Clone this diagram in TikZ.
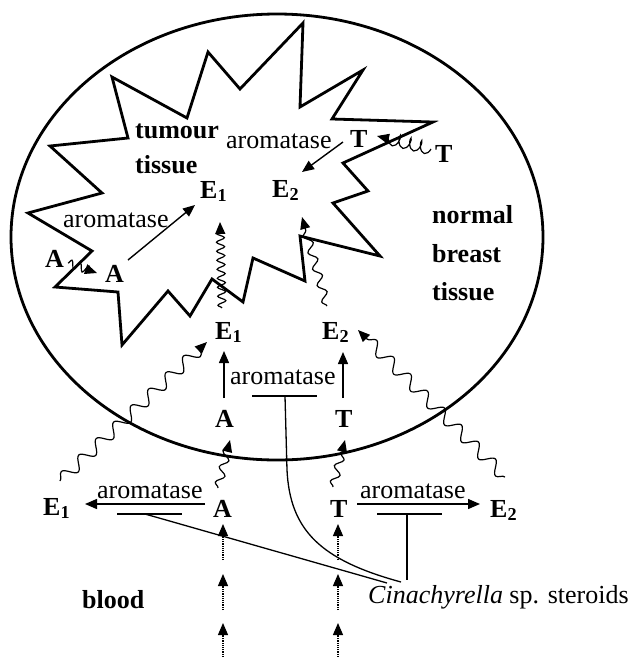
\documentclass[tikz,border=0pt]{standalone}
\usepackage{fontspec}
\setmainfont{Liberation Serif}
\usetikzlibrary{arrows.meta,decorations.pathmorphing}
\begin{document}
\begin{tikzpicture}[x=1pt,y=-1pt,
  lbl/.style={anchor=base west, inner sep=0pt, font=\fontsize{26}{30}\selectfont},
  blbl/.style={anchor=base west, inner sep=0pt, font=\fontsize{26}{30}\selectfont\bfseries},
  tip/.style={-{Triangle[length=12pt,width=10pt]}},
  arr/.style={tip, line width=1.4pt},
  wavy/.style={tip, line width=1.2pt, decorate,
    decoration={snake, segment length=#1, amplitude=4pt, post length=7pt}},
  wavy/.default=10pt,
  bigwavy/.style={tip, line width=1.2pt, decorate,
    decoration={snake, segment length=24pt, amplitude=6pt, post length=7pt}},
  coilarr/.style={tip, line width=1.2pt, decorate,
    decoration={coil, aspect=0.45, segment length=11pt, amplitude=6pt, post length=5pt}},
  dotarr/.style={tip, line width=1.2pt, densely dotted},
  inh/.style={line width=1.3pt},
  border/.style={line width=2.8pt, line join=miter}
]
\path[use as bounding box, fill=white] (0,0) rectangle (635,657);

% breast ellipse and tumour outline
\draw[border] (277,237) ellipse [x radius=266, y radius=223];
\draw[border] (303,23) -- (300,107) -- (363,70) -- (332,119) -- (433,122) -- (343,163)
  -- (368,191) -- (333,203) -- (380,256) -- (300,236) -- (305,281) -- (253,258)
  -- (243,302) -- (212,279) -- (190,316) -- (168,291) -- (122,345) -- (118,292)
  -- (55,287) -- (92,251) -- (28,213) -- (102,193) -- (50,146) -- (128,138)
  -- (112,77) -- (187,118) -- (208,52) -- (240,89) -- cycle;

% labels
\node[blbl] (tumour) at (135,138) {tumour};
\node[blbl] (tissueT) at (135,173) {tissue};
\node[lbl] (aroT) at (226,148) {aromatase};
\node[blbl] (Tt) at (350,147) {T};
\node[blbl] (Tout) at (435,162) {T};
\node[blbl] (E1t) at (200,198) {E\textsubscript{1}};
\node[blbl] (E2t) at (272,197) {E\textsubscript{2}};
\node[lbl] (aroL) at (63,227) {aromatase};
\node[blbl] (Aout) at (45,267) {A};
\node[blbl] (Ain) at (105,282) {A};
\node[blbl] (normal) at (432,223) {normal};
\node[blbl] (breast) at (432,262) {breast};
\node[blbl] (tissueN) at (432,300) {tissue};
\node[blbl] (E1m) at (215,339) {E\textsubscript{1}};
\node[blbl] (E2m) at (322,339) {E\textsubscript{2}};
\node[lbl] (aroM) at (230,384) {aromatase};
\node[blbl] (Am) at (215,427) {A};
\node[blbl] (Tm) at (335,427) {T};
\node[blbl] (E1b) at (43,515) {E\textsubscript{1}};
\node[lbl] (aroBL) at (97,498) {aromatase};
\node[blbl] (Ab) at (213,517) {A};
\node[blbl] (Tb) at (330,517) {T};
\node[blbl] (E2b) at (490,517) {E\textsubscript{2}};
\node[lbl] (aroBR) at (360,498) {aromatase};
\node[lbl] (cina) at (368,603) {\textit{Cinachyrella} sp. steroids};
\node[blbl] (blood) at (82,608) {blood};

% tumour tissue reactions
\draw[wavy=9pt] ([xshift=23pt,yshift=4pt]Aout.base west) -- ([xshift=-8pt,yshift=9pt]Ain.base west);
\draw[arr] ([xshift=23pt,yshift=22pt]Ain.base west) -- ([xshift=-5pt,yshift=-7pt]E1t.base west);
\draw[arr] ([xshift=-7pt,yshift=5pt]Tt.base west) -- ([xshift=30pt,yshift=25pt]E2t.base west);
\draw[coilarr] ([xshift=-4pt,yshift=13pt]Tout.base west) -- ([xshift=27pt,yshift=11pt]Tt.base west);
\draw[wavy=9pt] ([xshift=7pt,yshift=31pt]E1m.base west) -- ([xshift=20pt,yshift=-24pt]E1t.base west);
\draw[wavy=17pt] ([xshift=5pt,yshift=33pt]E2m.base west) -- ([xshift=30pt,yshift=-20pt]E2t.base west);

% normal tissue
\draw[arr] ([xshift=9pt,yshift=29pt]Am.base west) -- ([xshift=9pt,yshift=-12pt]E1m.base west);
\draw[arr] ([xshift=8pt,yshift=29pt]Tm.base west) -- ([xshift=21pt,yshift=-13pt]E2m.base west);
\draw[wavy=16pt] ([xshift=5pt,yshift=29pt]Ab.base west) -- ([xshift=15pt,yshift=-13pt]Am.base west);
\draw[wavy=16pt] ([xshift=3pt,yshift=30pt]Tb.base west) -- ([xshift=10pt,yshift=-13pt]Tm.base west);
\draw[bigwavy] ([xshift=17pt,yshift=34pt]E1b.base west) -- ([xshift=-8pt,yshift=-3pt]E1m.base west);
\draw[bigwavy] ([xshift=15pt,yshift=40pt]E2b.base west) -- ([xshift=36pt,yshift=9pt]E2m.base west);
\draw[inh] ([xshift=22pt,yshift=-12pt]aroM.base west) -- ([xshift=87pt,yshift=-12pt]aroM.base west);

% blood
\draw[arr] ([xshift=-8pt,yshift=13pt]Ab.base west) -- ([xshift=42pt,yshift=11pt]E1b.base west);
\draw[arr] ([xshift=27pt,yshift=13pt]Tb.base west) -- ([xshift=-10pt,yshift=13pt]E2b.base west);
\draw[inh] ([xshift=20pt,yshift=-16pt]aroBL.base west) -- ([xshift=85pt,yshift=-16pt]aroBL.base west);
\draw[inh] ([xshift=17pt,yshift=-16pt]aroBR.base west) -- ([xshift=82pt,yshift=-16pt]aroBR.base west);

\foreach \t/\h in {43/7,93/57,140/106}{
  \draw[dotarr] ([xshift=10pt,yshift=-\t pt]Ab.base west) -- ([xshift=10pt,yshift=-\h pt]Ab.base west);
  \draw[dotarr] ([xshift=8pt,yshift=-\t pt]Tb.base west) -- ([xshift=8pt,yshift=-\h pt]Tb.base west);
}

% inhibition by Cinachyrella steroids
\draw[inh] ([xshift=48pt,yshift=-16pt]aroBL.base west) -- ([xshift=19pt,yshift=20pt]cina.base west);
\draw[inh] ([xshift=47pt,yshift=-16pt]aroBR.base west) -- ([xshift=39pt,yshift=23pt]cina.base west);
\draw[inh] ([xshift=55pt,yshift=-12pt]aroM.base west) -- ([xshift=57pt,yshift=-86pt]aroM.base west)
  .. controls ([xshift=60pt,yshift=-146pt]aroM.base west) and ([xshift=-48pt,yshift=43pt]cina.base west)
  .. ([xshift=33pt,yshift=21pt]cina.base west);
\end{tikzpicture}
\end{document}
